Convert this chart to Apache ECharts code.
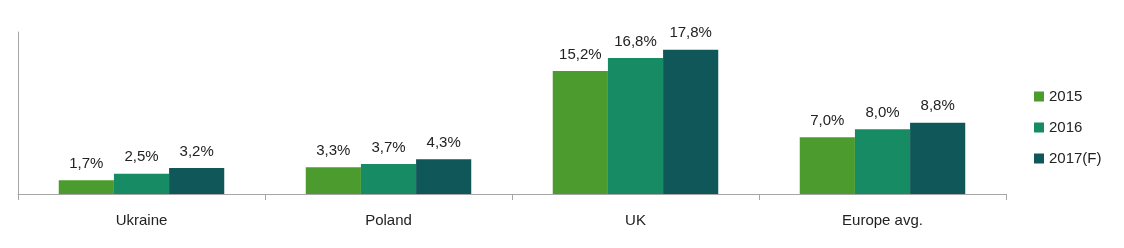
<!DOCTYPE html>
<html><head><meta charset="utf-8">
<script src="https://cdn.jsdelivr.net/npm/echarts@6/dist/echarts.min.js"></script>
<style>html,body{margin:0;padding:0;background:#fff}#c{width:1124px;height:248px}</style>
</head><body><div id="c"></div>
<script>
var categories = ['Ukraine', 'Poland', 'UK', 'Europe avg.'];
var seriesNames = ['2015', '2016', '2017(F)'];
var values2015 = [1.7, 3.3, 15.2, 7.0];
var values2016 = [2.5, 3.7, 16.8, 8.0];
var values2017 = [3.2, 4.3, 17.8, 8.8];
var colors = ['#4b9b2e', '#178c64', '#10575a'];
var font = 'Liberation Sans';

var chart = echarts.init(document.getElementById('c'));
function fmt(p){ return p.value.toFixed(1).replace('.', ',') + '%'; }
var data = [values2015, values2016, values2017];
chart.setOption({
  animation: false,
  textStyle: {fontFamily: font},
  grid: {left: 18, right: 118, top: 32, bottom: 54},
  legend: {
    orient: 'vertical', left: 1029, top: 84,
    itemWidth: 10, itemHeight: 10, itemGap: 16, icon: 'rect',
    textStyle: {fontFamily: font, fontSize: 15, color: '#222'},
    data: seriesNames
  },
  xAxis: {
    type: 'category', data: categories,
    axisLine: {lineStyle: {color: '#a6a6a6', width: 1}},
    axisTick: {show: true, length: 6, lineStyle: {color: '#a6a6a6'}},
    axisLabel: {fontFamily: font, fontSize: 15, color: '#222', margin: 19}
  },
  yAxis: {
    type: 'value', min: 0, max: 20,
    splitLine: {show: false},
    axisLine: {show: true, lineStyle: {color: '#a6a6a6', width: 1}},
    axisTick: {show: false},
    axisLabel: {show: false}
  },
  series: seriesNames.map(function(n, i){
    return {
      name: n, type: 'bar', data: data[i],
      barGap: '0%', barCategoryGap: '33%',
      itemStyle: {color: colors[i]},
      label: {show: true, position: 'top', distance: 9, formatter: fmt,
        fontFamily: font, fontSize: 15, color: '#222'}
    };
  })
});
</script></body></html>
